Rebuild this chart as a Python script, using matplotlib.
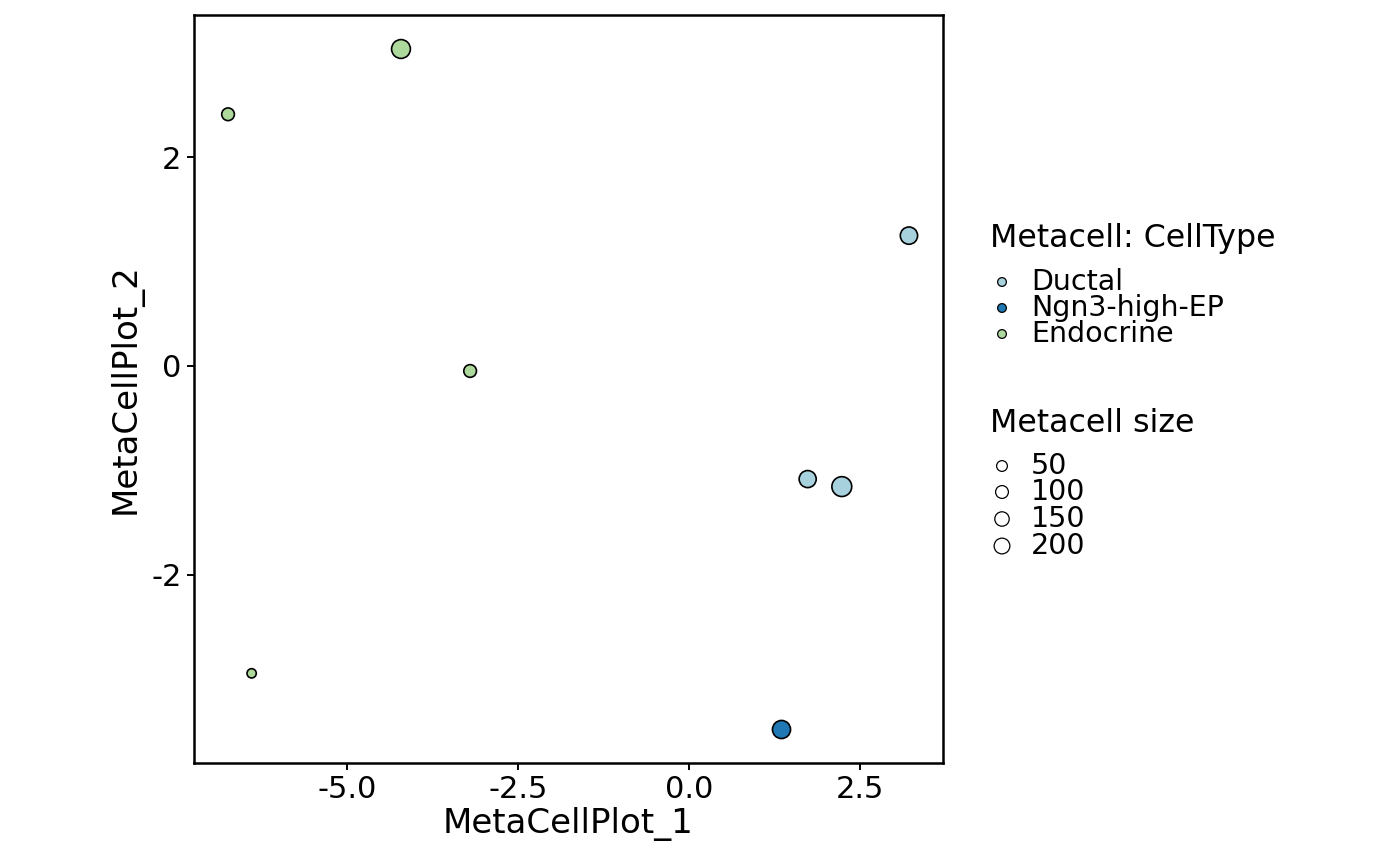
import matplotlib
matplotlib.use('Agg')
import matplotlib.pyplot as plt
import numpy as np

# metacell coordinates, cell types and sizes
mc_x = [-6.742, -4.213, -3.202, -6.397, 3.215, 1.734, 2.233, 1.347]
mc_y = [2.410, 3.035, -0.048, -2.943, 1.248, -1.083, -1.155, -3.476]
mc_type = ['Endocrine', 'Endocrine', 'Endocrine', 'Endocrine',
           'Ductal', 'Ductal', 'Ductal', 'Ngn3-high-EP']
mc_size = [98, 200, 98, 57, 171, 167, 220, 186]

cell_types = ['Ductal', 'Ngn3-high-EP', 'Endocrine']
type_colors = ['#a8d1de', '#1f78b4', '#add99c']
size_breaks = [50, 100, 150, 200]

DPI = 100
W, H = 1400, 866
PX = 72.0 / DPI  # points per pixel
EDGE = 1.2


def size_to_area(v):
    # diameter in pixels grows with sqrt of metacell size
    d_px = 1.45 * np.sqrt(np.asarray(v, dtype=float))
    d_pt = d_px * PX - EDGE
    return d_pt ** 2


def legend_area(v):
    d_px = 7 + 0.707 * np.sqrt(np.asarray(v, dtype=float))
    return (d_px * PX - 0.9) ** 2


fig = plt.figure(figsize=(W / DPI, H / DPI), dpi=DPI)
ax = fig.add_axes([194 / W, 1 - 763 / H, (943 - 194) / W, (763 - 15) / H])

mc_x = np.array(mc_x)
mc_y = np.array(mc_y)
mc_type = np.array(mc_type)
mc_size = np.array(mc_size)
for ct, col in zip(cell_types, type_colors):
    m = mc_type == ct
    ax.scatter(mc_x[m], mc_y[m], s=size_to_area(mc_size[m]), c=col,
               edgecolors='black', linewidths=EDGE, zorder=3)

ax.margins(0.05)
ax.set_xticks([-5.0, -2.5, 0.0, 2.5])
ax.set_xticklabels(['-5.0', '-2.5', '0.0', '2.5'])
ax.set_yticks([-2, 0, 2])
ax.set_yticklabels(['-2', '0', '2'])
ax.tick_params(axis='both', length=5, width=1.4, labelsize=22, pad=4)
for sp in ax.spines.values():
    sp.set_linewidth(1.8)
ax.set_xlabel('MetaCellPlot_1', fontsize=24.5, labelpad=2)
ax.set_ylabel('MetaCellPlot_2', fontsize=24.5, labelpad=6)

# legends drawn in a pixel-coordinate overlay
lg = fig.add_axes([0, 0, 1, 1])
lg.set_xlim(0, W)
lg.set_ylim(H, 0)
lg.axis('off')

lg.text(990, 238, 'Metacell: CellType', fontsize=22.8, va='center', ha='left')
type_rows = [282, 308, 334]
lg.scatter([1002] * len(cell_types), type_rows, s=(10 * PX - 0.9) ** 2,
           c=type_colors, edgecolors='black', linewidths=0.9)
for lab, yy in zip(cell_types, type_rows):
    lg.text(1031, yy, lab, fontsize=20.5, va='center', ha='left')

lg.text(990, 424, 'Metacell size', fontsize=22.8, va='center', ha='left')
size_rows = [466, 492, 519, 546]
lg.scatter([1002] * len(size_breaks), size_rows, s=legend_area(size_breaks),
           c='white', edgecolors='black', linewidths=0.9)
for v, yy in zip(size_breaks, size_rows):
    lg.text(1031, yy, str(v), fontsize=20.5, va='center', ha='left')

fig.savefig('out.png', dpi=DPI)
